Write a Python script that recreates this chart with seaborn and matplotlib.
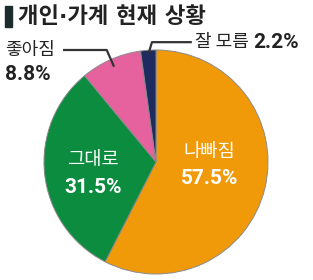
import matplotlib.pyplot as plt
import matplotlib.patches as mpatches
import numpy as np
import seaborn as sns

labels = ["나빠짐", "그대로", "좋아짐", "잘 모름"]
values = [57.5, 31.5, 8.8, 2.2]
colors = ["#F09A0A", "#0B8C3E", "#E5629F", "#1E2B5E"]
title = "개인·가계 현재 상황"

sns.set_theme(style="white")
plt.rcParams['font.family'] = ['Noto Sans CJK KR', 'DejaVu Sans']
num_font = ['Roboto', 'Noto Sans CJK KR']

fig = plt.figure(figsize=(3.13, 2.8), dpi=100)
ax = fig.add_axes([44 / 313, 6 / 280, 224 / 313, 224 / 280])
wedges, _ = ax.pie(values, colors=colors, startangle=90, counterclock=False,
                   wedgeprops=dict(edgecolor="#8a8a8a", linewidth=0.7))
ax.set_xlim(-1, 1)
ax.set_ylim(-1, 1)

# inner labels
ax.text(0.48, 0.09, labels[0], color="white", fontsize=13.5, ha="center", va="center")
ax.text(0.48, -0.15, f"{values[0]}%", color="white", fontsize=15, fontweight="bold",
        ha="center", va="center", family=num_font)
ax.text(-0.56, 0.02, labels[1], color="white", fontsize=13.5, ha="center", va="center")
ax.text(-0.56, -0.23, f"{values[1]}%", color="white", fontsize=15, fontweight="bold",
        ha="center", va="center", family=num_font)

# leader lines from wedge mid angles
def mid(w):
    a = np.deg2rad((w.theta1 + w.theta2) / 2)
    return np.cos(a), np.sin(a)

cx, cy = mid(wedges[2])
ax.plot([0.93 * cx, -0.44, -0.83], [0.93 * cy, 1.0, 1.0], color="#333333", lw=1.6,
        clip_on=False, solid_capstyle="butt")
ax.text(-1.35, 1.0, labels[2], color="#222222", fontsize=13, ha="left", va="center")
ax.text(-1.35, 0.78, f"{values[2]}%", color="#222222", fontsize=15, fontweight="bold",
        ha="left", va="center", family=num_font)

cx, cy = mid(wedges[3])
ax.plot([0.97 * cx, -0.036, 0.32], [0.97 * cy, 1.07, 1.07], color="#333333", lw=1.6,
        clip_on=False, solid_capstyle="butt")
t = ax.text(0.35, 1.07, labels[3] + " ", color="#222222", fontsize=13, ha="left",
            va="center")
fig.canvas.draw()
bb = t.get_window_extent().transformed(ax.transData.inverted())
ax.text(bb.x1, 1.07, f"{values[3]}%", color="#222222", fontsize=15, fontweight="bold",
        ha="left", va="center", family=num_font)

# title
fig.patches.append(mpatches.Rectangle((5 / 313, 1 - 27 / 280), 7 / 313, 21 / 280,
                                      transform=fig.transFigure, color="#1d2b2b"))
fig.text(18 / 313, 1 - 17 / 280, title, fontsize=16, fontweight="bold", color="#222222",
         ha="left", va="center", family=['DejaVu Sans', 'Noto Sans CJK KR'])

fig.savefig("out.png", dpi=100)
